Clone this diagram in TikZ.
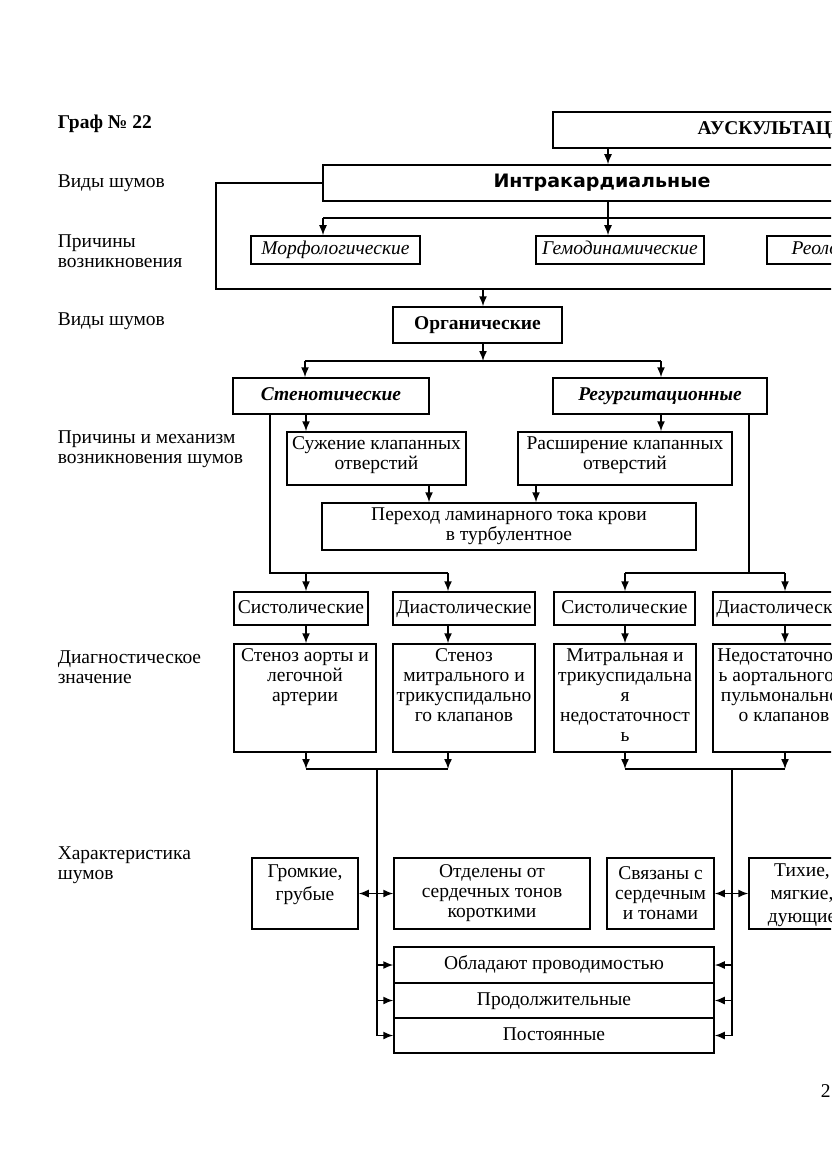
\documentclass[tikz,border=0pt]{standalone}
\usepackage{fontspec}
\setmainfont{Liberation Serif}
\newfontfamily\heavysans{DejaVu Sans}[FakeStretch=1.03]
\usetikzlibrary{arrows.meta,calc}
\begin{document}
\begin{tikzpicture}[x=1pt,y=-1pt,
  line width=1.5pt,
  every node/.style={font=\fontsize{19.5}{20}\selectfont, inner sep=0pt},
  box/.style={draw, line width=1.5pt, align=center, inner sep=1pt},
  one/.style={text height=13.5pt, text depth=4.5pt},
  lbl/.style={anchor=west, align=left},
  arr/.style={-{Latex[length=10pt,width=8pt]}},
  darr/.style={{Latex[length=10pt,width=8pt]}-{Latex[length=10pt,width=8pt]}},
  bold/.style={font=\fontsize{19.5}{20}\selectfont\bfseries},
  ital/.style={font=\fontsize{19.5}{20}\selectfont\itshape},
  boldital/.style={font=\fontsize{19.5}{20}\selectfont\bfseries\itshape},
  bigtext/.style={align=center, anchor=north}]
\useasboundingbox (0,0) rectangle (831,1174);
\clip (0,0) rectangle (831,1174);
\fill[white] (0,0) rectangle (831,1174);

% left labels
\node[lbl,bold,one] (title) at (57,124) {Граф № 22};
\node[lbl,one] (l1) at (57,183) {Виды шумов};
\node[lbl] (l2) at (57,251) {Причины\\возникновения};
\node[lbl,one] (l3) at (57,321) {Виды шумов};
\node[lbl] (l4) at (57,449.5) {Причины и механизм\\возникновения шумов};
\node[lbl] (l5) at (57,667) {Диагностическое\\значение};
\node[lbl] (l6) at (57,865) {Характеристика\\шумов};
\node[anchor=west,one] (pg) at (820,1093) {2};

% top levels
\node[box,bold,one,minimum width=452,minimum height=36] (ausk) at (779,130) {АУСКУЛЬТАЦИЯ};
\node[box,minimum width=558,minimum height=36,font=\heavysans\bfseries\fontsize{18.5}{20}\selectfont,text height=13.5pt,text depth=3.5pt] (intra) at (602,183) {Интракардиальные};
\node[box,ital,one,minimum width=169,minimum height=28] (morph) at (335.5,250) {Морфологические};
\node[box,ital,one,minimum width=168,minimum height=28] (gemo) at (620,250) {Гемодинамические};
\node[box,ital,one,minimum width=168,minimum height=28] (reol) at (851,250) {Реологические};
\node[box,bold,one,minimum width=169,minimum height=36] (org) at (477.5,325) {Органические};
\node[box,boldital,one,minimum width=196,minimum height=36] (sten) at (331,396) {Стенотические};
\node[box,boldital,one,minimum width=214,minimum height=36] (regu) at (660,396) {Регургитационные};
\node[box,minimum width=179,minimum height=53] (suzh) at (376.5,458.5) {};
\node[align=center] (suzht) at (376.5,455.5) {Сужение клапанных\\отверстий};
\node[box,minimum width=214,minimum height=53] (rassh) at (625,458.5) {};
\node[align=center] (rassht) at (625,455.5) {Расширение клапанных\\отверстий};
\node[box,minimum width=374,minimum height=47] (perek) at (509,526.5) {Переход ламинарного тока крови\\в турбулентное};

% systolic / diastolic
\node[box,one,minimum width=134,minimum height=33] (sys1) at (301,608.5) {Систолические};
\node[box,one,minimum width=142,minimum height=33] (dia1) at (464,608.5) {Диастолические};
\node[box,one,minimum width=141,minimum height=33] (sys2) at (624.5,608.5) {Систолические};
\node[box,one,minimum width=142,minimum height=33] (dia2) at (784,608.5) {Диастолические};

% diagnostic boxes
\node[box,minimum width=142,minimum height=108] (big1) at (305,698) {};
\node[box,minimum width=142,minimum height=108] (big2) at (464,698) {};
\node[box,minimum width=142,minimum height=108] (big3) at (625,698) {};
\node[box,minimum width=142,minimum height=108] (big4) at (784,698) {};
\node[bigtext] (big1t) at ($(big1.north)+(0,5)$) {Стеноз аорты и\\легочной\\артерии};
\node[bigtext] (big2t) at ($(big2.north)+(0,5)$) {Стеноз\\митрального и\\трикуспидально\\го клапанов};
\node[bigtext] (big3t) at ($(big3.north)+(0,5)$) {Митральная и\\трикуспидальна\\я\\недостаточност\\ь};
\node[bigtext] (big4t) at ($(big4.north)+(0,5)$) {Недостаточност\\ь аортального и\\пульмональног\\о клапанов};

% characteristics
\node[box,minimum width=106,minimum height=71] (grom) at (305,893.5) {};
\node[align=center] (gromt) at (305,885) {Громкие,\\[3pt]грубые};
\node[box,minimum width=196,minimum height=71] (otdel) at (492,893.5) {Отделены от\\сердечных тонов\\короткими};
\node[box,minimum width=107,minimum height=71] (svyaz) at (660.5,893.5) {Связаны с\\сердечным\\и тонами};
\node[box,minimum width=106,minimum height=71] (tikh) at (802,893.5) {};
\node[align=center] (tikht) at (802,895) {Тихие,\\[3pt]мягкие,\\[3pt]дующие};
\node[box,one,minimum width=320,minimum height=36] (obl) at (554,965) {Обладают проводимостью};
\node[box,one,minimum width=320,minimum height=35] (prod) at (554,1000.5) {Продолжительные};
\node[box,one,minimum width=320,minimum height=35] (post) at (554,1035.5) {Постоянные};

% connectors
\draw[arr] (608,0 |- ausk.south) -- (608,0 |- intra.north);
\coordinate (fr1) at (216,183);
\coordinate (fr2) at (216,289);
\coordinate (fr3) at (900,289);
\draw (intra.west) -- (fr1) -- (fr2) -- (fr3);
\coordinate (bar1l) at (323,218);
\coordinate (bar1r) at (900,218);
\draw (bar1l) -- (bar1r);
\draw[arr] (bar1l) -- (323,0 |- morph.north);
\draw[arr] (608,0 |- intra.south) -- (608,0 |- gemo.north);
\draw[arr] (483,289) -- (483,0 |- org.north);
\coordinate (bar2l) at (305,361);
\coordinate (bar2r) at (661,361);
\draw[arr] (483,0 |- org.south) -- (483,361);
\draw (bar2l) -- (bar2r);
\draw[arr] (bar2l) -- (305,0 |- sten.north);
\draw[arr] (bar2r) -- (661,0 |- regu.north);
\draw[arr] (306,0 |- sten.south) -- (306,0 |- suzh.north);
\draw[arr] (661,0 |- regu.south) -- (661,0 |- rassh.north);
\draw[arr] (429,0 |- suzh.south) -- (429,0 |- perek.north);
\draw[arr] (536,0 |- rassh.south) -- (536,0 |- perek.north);
\draw (270,0 |- sten.south) -- (270,573) -- (448,573);
\draw[arr] (306,573) -- (306,0 |- sys1.north);
\draw[arr] (448,573) -- (448,0 |- dia1.north);
\draw (749,0 |- regu.south) -- (749,573);
\draw (625,573) -- (785,573);
\draw[arr] (625,573) -- (625,0 |- sys2.north);
\draw[arr] (785,573) -- (785,0 |- dia2.north);
\draw[arr] (306,0 |- sys1.south) -- (306,0 |- big1.north);
\draw[arr] (448,0 |- dia1.south) -- (448,0 |- big2.north);
\draw[arr] (625,0 |- sys2.south) -- (625,0 |- big3.north);
\draw[arr] (785,0 |- dia2.south) -- (785,0 |- big4.north);
\draw[arr] (306,0 |- big1.south) -- (306,769);
\draw[arr] (448,0 |- big2.south) -- (448,769);
\draw[arr] (625,0 |- big3.south) -- (625,769);
\draw[arr] (785,0 |- big4.south) -- (785,769);
\draw (306,769) -- (448,769);
\draw (625,769) -- (785,769);
\draw (377,769) -- (377,0 |- post.west);
\draw (732,769) -- (732,0 |- post.east);
\draw[darr] (grom.east) -- (otdel.west);
\draw[darr] (svyaz.east) -- (tikh.west);
\draw[arr] (377,0 |- obl.west) -- (obl.west);
\draw[arr] (377,0 |- prod.west) -- (prod.west);
\draw[arr] (377,0 |- post.west) -- (post.west);
\draw[arr] (732,0 |- obl.east) -- (obl.east);
\draw[arr] (732,0 |- prod.east) -- (prod.east);
\draw[arr] (732,0 |- post.east) -- (post.east);
\end{tikzpicture}
\end{document}
